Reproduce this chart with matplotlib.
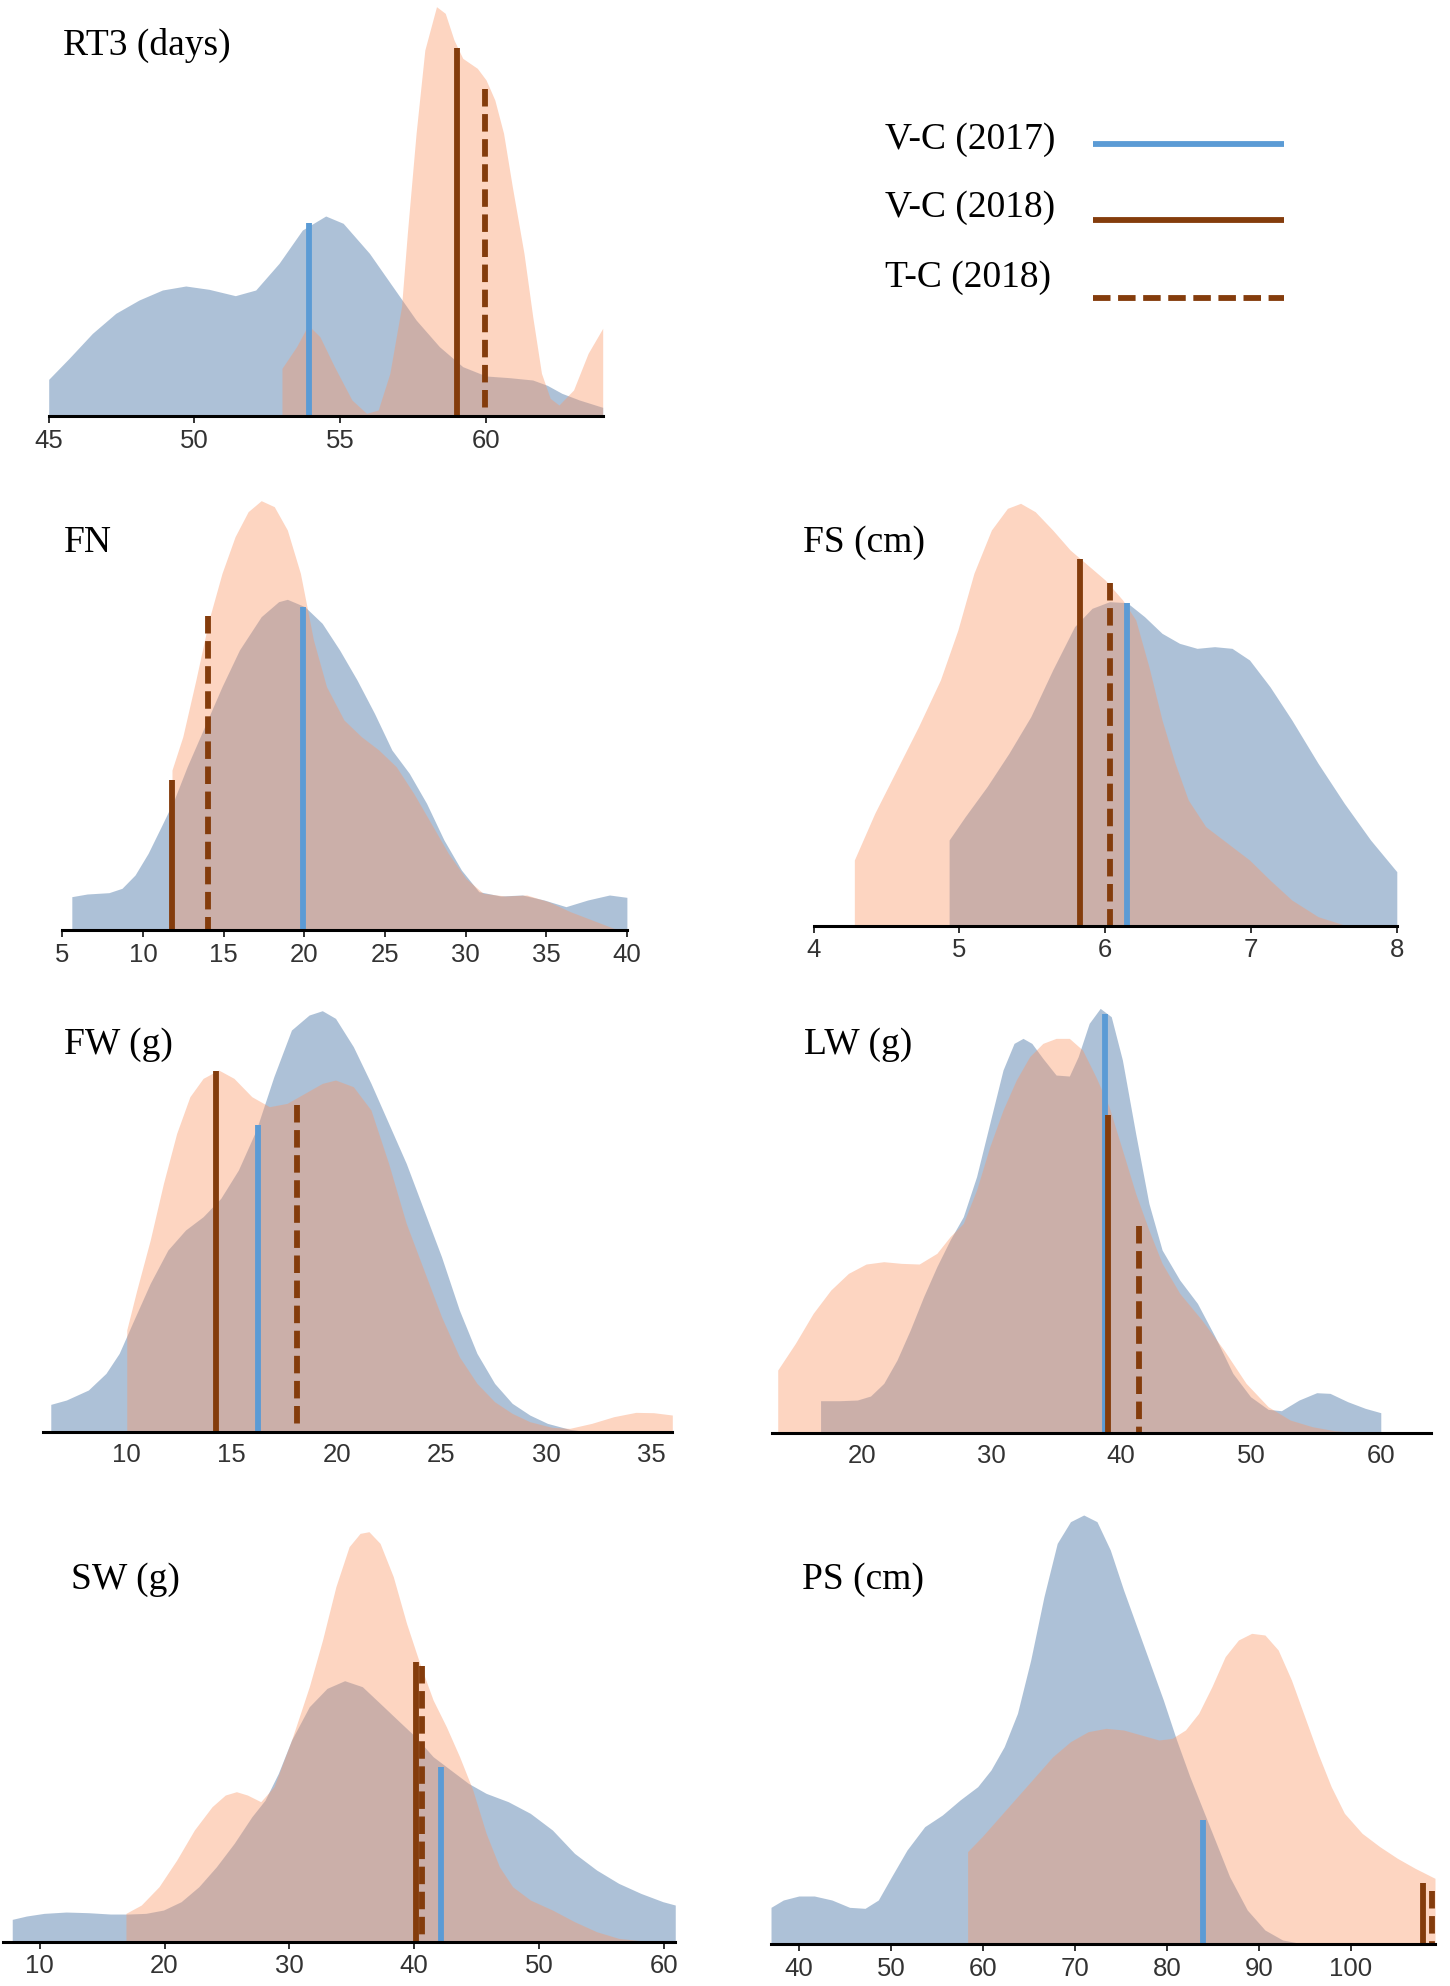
import matplotlib
matplotlib.use("Agg")
import matplotlib.pyplot as plt
from matplotlib.lines import Line2D

# ---- density curves (x value, relative density) ----
RT3_X_2017 = [45, 45.7, 46.5, 47.3, 48.1, 48.9, 49.7, 50.5, 51.4, 52.1, 52.9, 53.7, 54.5,
              55.1, 56.0, 56.8, 57.6, 58.4, 59.2, 60.0, 60.8, 61.6, 62.1, 62.6, 63.2, 64.0]
RT3_D_2017 = [110, 173, 248, 308, 348, 378, 390, 380, 361, 378, 458, 558, 600,
              578, 488, 388, 288, 208, 148, 120, 115, 108, 92, 68, 48, 26]
RT3_X_2018 = [53.0, 53.5, 53.9, 54.3, 54.8, 55.4, 55.9, 56.3, 56.7, 57.1, 57.3, 57.6, 57.9,
              58.3, 58.6, 58.9, 59.2, 59.7, 60.0, 60.3, 60.6, 60.9, 61.3, 61.6, 61.9, 62.2,
              62.5, 63.0, 63.5, 64.0]
RT3_D_2018 = [143, 208, 273, 238, 148, 48, 8, 18, 128, 328, 548, 848, 1098,
              1228, 1208, 1128, 1073, 1043, 1008, 948, 848, 688, 488, 298, 128, 53,
              33, 78, 188, 263]

FN_X_2017 = [5.59, 6.54, 7.89, 8.70, 9.51, 10.32, 11.13, 11.93, 12.74, 13.82, 14.90, 15.98,
             17.33, 18.41, 18.95, 20.03, 21.11, 22.19, 23.27, 24.35, 25.43, 26.51, 27.58,
             28.66, 29.74, 30.82, 32.17, 33.52, 34.87, 36.22, 37.57, 38.92, 40.0]
FN_D_2017 = [100, 108, 112, 125, 165, 230, 310, 390, 490, 610, 730, 840,
             940, 985, 992, 970, 920, 840, 750, 650, 540, 470, 380,
             270, 180, 115, 102, 105, 90, 70, 90, 105, 98]
FN_X_2018 = [11.80, 12.47, 13.28, 14.09, 14.90, 15.71, 16.52, 17.33, 18.14, 18.95, 19.76,
             20.57, 21.38, 22.46, 23.54, 24.62, 25.70, 26.78, 27.86, 28.93, 30.01, 31.09,
             32.44, 33.79, 35.14, 36.49, 37.84, 39.19, 40.0]
FN_D_2018 = [480, 580, 750, 930, 1070, 1180, 1255, 1288, 1270, 1200, 1070,
             870, 730, 630, 580, 540, 490, 410, 320, 230, 155, 110,
             102, 105, 85, 55, 30, 5, 0]

FS_X_2017 = [4.93, 5.04, 5.19, 5.34, 5.49, 5.64, 5.79, 5.91, 6.03, 6.15, 6.27, 6.39,
             6.51, 6.63, 6.75, 6.87, 6.99, 7.13, 7.28, 7.46, 7.64, 7.82, 8.0]
FS_D_2017 = [258, 328, 418, 518, 628, 768, 898, 953, 973, 970, 928, 878,
             848, 833, 838, 833, 798, 718, 618, 488, 368, 258, 163]
FS_X_2018 = [4.28, 4.42, 4.57, 4.72, 4.87, 4.99, 5.10, 5.22, 5.33, 5.42, 5.52, 5.64, 5.76,
             5.88, 6.00, 6.12, 6.21, 6.30, 6.39, 6.48, 6.57, 6.69, 6.84, 6.99, 7.13, 7.28,
             7.46, 7.64, 8.0]
FS_D_2018 = [198, 338, 468, 598, 738, 888, 1058, 1188, 1253, 1268, 1243, 1188, 1128,
             1083, 1038, 978, 918, 778, 618, 488, 378, 298, 248, 198, 138, 78,
             28, 3, 0]

FW_X_2017 = [6.38, 7.12, 8.17, 9.01, 9.64, 10.27, 11.12, 11.96, 12.80, 13.64, 14.48, 15.32,
             16.17, 17.01, 17.85, 18.69, 19.32, 19.95, 20.80, 21.64, 22.48, 23.32, 24.16,
             25.00, 25.85, 26.69, 27.53, 28.37, 29.21, 30.05, 31.11, 31.95]
FW_D_2017 = [82, 95, 125, 175, 235, 325, 445, 545, 605, 645, 700, 785,
             905, 1065, 1205, 1250, 1263, 1240, 1155, 1045, 925, 805, 665,
             525, 365, 235, 145, 85, 50, 25, 7, 0]
FW_X_2018 = [10.0, 10.48, 11.12, 11.75, 12.38, 13.01, 13.64, 14.38, 15.11, 15.96, 16.80,
             17.64, 18.48, 19.32, 19.95, 20.80, 21.64, 22.48, 23.32, 24.16, 25.00, 25.85,
             26.69, 27.53, 28.37, 29.21, 30.27, 31.11, 32.16, 33.21, 34.26, 35.11, 36.0]
FW_D_2018 = [305, 425, 575, 745, 895, 1005, 1060, 1085, 1060, 1005, 975,
             985, 1015, 1045, 1055, 1035, 965, 805, 625, 485, 345, 225,
             145, 90, 55, 30, 13, 10, 25, 45, 58, 57, 50]

LW_X_2017 = [16.83, 18.30, 19.66, 20.68, 21.70, 22.72, 23.74, 24.77, 25.79, 26.81, 27.83,
             28.85, 29.87, 30.89, 31.74, 32.43, 33.11, 33.96, 34.98, 36.0, 36.68, 37.53,
             38.38, 39.23, 40.09, 41.11, 42.13, 43.15, 44.51, 45.87, 47.23, 48.60, 49.96,
             51.32, 52.34, 53.70, 55.06, 56.09, 57.45, 58.81, 60.0]
LW_D_2017 = [96, 96, 98, 110, 148, 218, 308, 408, 498, 578, 648,
             768, 928, 1088, 1168, 1183, 1168, 1123, 1073, 1070, 1128, 1228,
             1273, 1248, 1118, 898, 688, 548, 458, 388, 288, 178, 108,
             70, 66, 98, 120, 118, 93, 73, 60]
LW_X_2018 = [13.53, 14.89, 16.26, 17.62, 18.98, 20.34, 21.70, 23.06, 24.43, 25.79, 26.81,
             27.83, 28.85, 29.87, 30.89, 31.91, 32.94, 33.96, 34.98, 36.0, 37.02, 38.04,
             39.06, 40.09, 41.11, 42.13, 43.15, 44.51, 46.21, 47.91, 49.62, 51.32, 53.02,
             54.72, 56.43, 58.13, 60.0]
LW_D_2018 = [188, 268, 358, 428, 478, 506, 513, 508, 506, 538, 588,
             628, 728, 858, 968, 1058, 1128, 1168, 1183, 1183, 1148, 1068,
             978, 848, 718, 608, 508, 418, 338, 248, 148, 78, 38,
             18, 6, 1, 0]

SW_X_2017 = [7.80, 8.94, 10.35, 12.12, 13.90, 15.67, 17.08, 18.50, 19.92, 21.33, 22.75,
             24.16, 25.58, 27.0, 28.06, 29.12, 30.18, 31.60, 33.02, 34.43, 35.85, 37.27,
             38.68, 40.10, 41.52, 42.93, 44.35, 45.77, 47.54, 49.31, 51.08, 52.85, 54.62,
             56.39, 58.16, 59.93, 60.92]
SW_D_2017 = [67, 77, 85, 89, 87, 83, 83, 85, 95, 120, 165,
             225, 295, 375, 425, 505, 605, 705, 760, 783, 765, 715,
             665, 615, 555, 515, 475, 445, 420, 385, 335, 265, 215,
             175, 145, 120, 110]
SW_X_2018 = [16.91, 18.14, 19.56, 20.98, 22.39, 23.81, 24.87, 25.76, 26.64, 27.71, 28.77,
             30.18, 31.60, 32.66, 33.73, 34.79, 35.67, 36.38, 37.27, 38.33, 39.39, 40.45,
             41.52, 42.58, 43.64, 44.70, 45.77, 46.83, 47.89, 49.31, 51.08, 52.85, 54.62,
             56.39, 58.16, 60.92]
SW_D_2018 = [85, 110, 165, 245, 335, 405, 440, 450, 440, 420, 465,
             605, 765, 905, 1065, 1185, 1225, 1230, 1195, 1095, 955, 835,
             725, 645, 555, 455, 325, 225, 165, 125, 95, 60, 30,
             10, 3, 0]

PS_X_2017 = [36.98, 38.32, 40.0, 41.68, 43.60, 45.52, 47.20, 48.64, 50.08, 51.76, 53.68,
             55.60, 57.52, 59.44, 60.88, 62.32, 63.76, 65.20, 66.64, 68.08, 69.52, 70.96,
             72.40, 73.85, 75.29, 76.73, 78.17, 79.61, 81.05, 82.49, 83.93, 85.37, 86.81,
             88.73, 90.65, 92.57, 94.49, 96.41]
PS_D_2017 = [110, 132, 144, 144, 132, 110, 107, 132, 202, 282, 352,
             387, 432, 472, 522, 592, 692, 852, 1042, 1202, 1267, 1287,
             1267, 1182, 1062, 952, 842, 732, 612, 502, 402, 302, 202,
             102, 42, 12, 2, 0]
PS_X_2018 = [58.34, 59.92, 61.84, 63.76, 65.68, 67.60, 69.52, 71.44, 73.37, 75.29, 77.21,
             79.13, 80.57, 82.01, 83.45, 84.89, 86.33, 87.77, 89.21, 90.65, 92.09, 93.53,
             94.97, 96.41, 97.85, 99.29, 101.21, 103.13, 105.05, 106.97, 109.13]
PS_D_2018 = [277, 322, 382, 442, 502, 562, 607, 637, 647, 642, 627,
             612, 617, 642, 692, 772, 862, 912, 932, 927, 882, 792,
             682, 572, 472, 392, 332, 292, 257, 227, 197]

# ---- mean markers: [V-C (2017), V-C (2018), T-C (2018)] ----
RT3_MEAN = [53.94, 59.02, 59.97]
RT3_MEAN_H = [580, 1103, 980]
FN_MEAN = [19.95, 11.80, 14.04]
FN_MEAN_H = [968, 450, 942]
FS_MEAN = [6.15, 5.83, 6.03]
FS_MEAN_H = [970, 1101, 1028]
FW_MEAN = [16.27, 14.27, 18.12]
FW_MEAN_H = [920, 1083, 980]
LW_MEAN = [38.72, 39.0, 41.38]
LW_MEAN_H = [1256, 953, 620]
SW_MEAN = [42.12, 40.17, 40.63]
SW_MEAN_H = [523, 840, 828]
PS_MEAN = [83.93, 107.83, 108.75]
PS_MEAN_H = [372, 182, 160]

SERIES = ["V-C (2017)", "V-C (2018)", "T-C (2018)"]

FILL_2017 = "#34669d"
FILL_2018 = "#fa9666"
LINE_BLUE = "#5b9bd5"
LINE_BROWN = "#843c0c"
DASH = (0, (3.0, 1.3))
LW_MEANLINE = 4.2

W, H = 1450, 1986

# layout in pixels: title, left, right, baseline, top, xlim, ticks, tick marks, title pos
PANELS = [
    ("RT3 (days)", 48.7, 602.7, 416, 0, (45, 64), [45, 50, 55, 60], True, (62.7, 45),
     RT3_X_2017, RT3_D_2017, RT3_X_2018, RT3_D_2018, RT3_MEAN, RT3_MEAN_H),
    ("FN", 62.3, 626.9, 930, 480, (5, 40), list(range(5, 41, 5)), True, (64, 543),
     FN_X_2017, FN_D_2017, FN_X_2018, FN_D_2018, FN_MEAN, FN_MEAN_H),
    ("FS (cm)", 813.5, 1396.8, 926, 480, (4, 8), [4, 5, 6, 7, 8], True, (803, 543),
     FS_X_2017, FS_D_2017, FS_X_2018, FS_D_2018, FS_MEAN, FS_MEAN_H),
    ("FW (g)", 42.8, 672.3, 1431.7, 990, (6.0, 36.0), list(range(10, 36, 5)), False, (64, 1045),
     FW_X_2017, FW_D_2017, FW_X_2018, FW_D_2018, FW_MEAN, FW_MEAN_H),
    ("LW (g)", 772.4, 1431.4, 1432.7, 990, (13.12, 63.9), list(range(20, 61, 10)), False, (804, 1045),
     LW_X_2017, LW_D_2017, LW_X_2018, LW_D_2018, LW_MEAN, LW_MEAN_H),
    ("SW (g)", 3.5, 675.0, 1941.7, 1500, (7.1, 60.9), list(range(10, 61, 10)), True, (70.7, 1580),
     SW_X_2017, SW_D_2017, SW_X_2018, SW_D_2018, SW_MEAN, SW_MEAN_H),
    ("PS (cm)", 771.0, 1435.0, 1944, 1500, (36.98, 109.13), list(range(40, 101, 10)), True, (802, 1580),
     PS_X_2017, PS_D_2017, PS_X_2018, PS_D_2018, PS_MEAN, PS_MEAN_H),
]


def draw_panel(fig, spec):
    (title, left, right, base, top, xlim, ticks, marks, tpos,
     x17, d17, x18, d18, means, mean_h) = spec
    ax = fig.add_axes([left / W, 1 - base / H, (right - left) / W, (base - top) / H])
    ax.set_xlim(*xlim)
    ax.set_ylim(0, (base - top) * 3)
    ax.fill_between(x17, d17, color=FILL_2017, alpha=0.4, lw=0)
    ax.fill_between(x18, d18, color=FILL_2018, alpha=0.4, lw=0)
    ax.plot([means[0]] * 2, [0, mean_h[0]], color=LINE_BLUE, lw=LW_MEANLINE,
            solid_capstyle="butt")
    ax.plot([means[1]] * 2, [0, mean_h[1]], color=LINE_BROWN, lw=LW_MEANLINE,
            solid_capstyle="butt")
    # dashed line drawn top-down so the pattern starts with a full dash at the top
    ax.plot([means[2]] * 2, [mean_h[2], 0], color=LINE_BROWN, lw=LW_MEANLINE, ls=DASH,
            dash_capstyle="butt")
    for s in ("top", "left", "right"):
        ax.spines[s].set_visible(False)
    ax.spines["bottom"].set_linewidth(2.2)
    ax.spines["bottom"].set_color("black")
    ax.set_yticks([])
    ax.set_xticks(ticks, labels=[str(t) for t in ticks])
    ax.tick_params(axis="x", length=5 if marks else 0, width=1.4, color="#333333",
                   labelsize=18.5, labelcolor="#333333", pad=4 if marks else 8)
    for lab in ax.get_xticklabels():
        lab.set_fontfamily("Liberation Sans")
    ax.patch.set_alpha(0)
    fig.text(tpos[0] / W, 1 - tpos[1] / H, title, fontsize=27, family="Liberation Serif",
             ha="left", va="center")
    return ax


fig = plt.figure(figsize=(W / 100, H / 100), dpi=100)

for spec in PANELS:
    draw_panel(fig, spec)

# legend: label on the left, line sample on the right
legend_text_y = [140, 208, 278]
legend_line_y = [144, 220, 298]
legend_styles = [dict(color=LINE_BLUE), dict(color=LINE_BROWN), dict(color=LINE_BROWN, ls=DASH)]
for label, ty, ly, style in zip(SERIES, legend_text_y, legend_line_y, legend_styles):
    fig.text(885 / W, 1 - ty / H, label, fontsize=27, family="Liberation Serif",
             ha="left", va="center")
    fig.add_artist(Line2D([1092.6 / W, 1284 / W], [1 - ly / H] * 2, lw=LW_MEANLINE,
                          solid_capstyle="butt", dash_capstyle="butt", **style))

fig.savefig("out.png", dpi=100)
